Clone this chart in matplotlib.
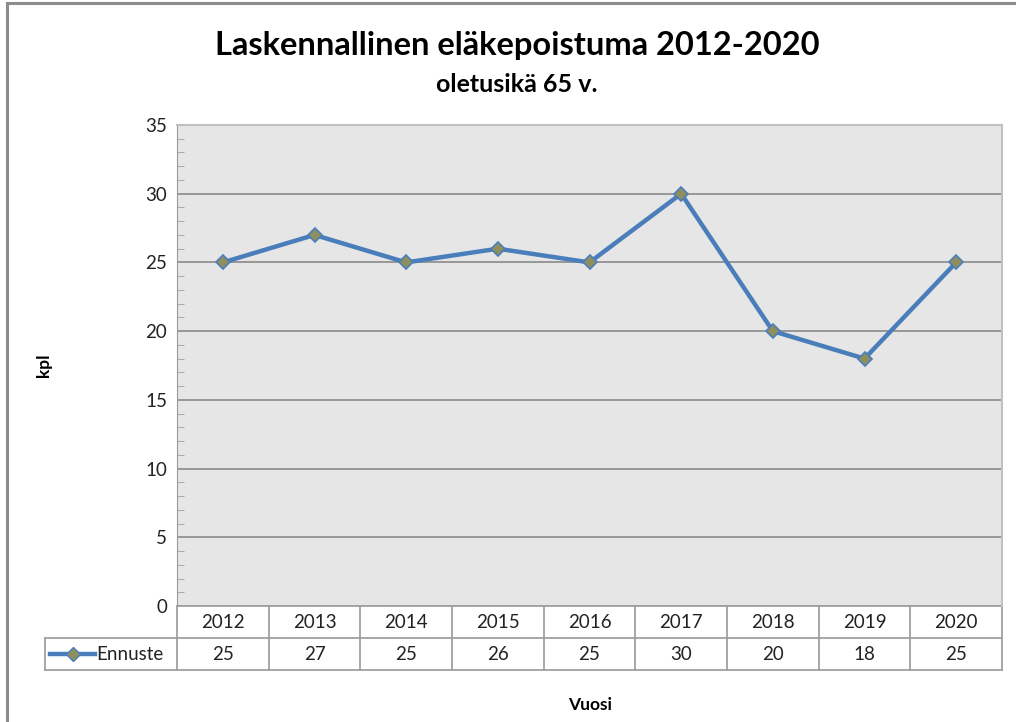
import matplotlib.pyplot as plt
from matplotlib.lines import Line2D
from matplotlib.patches import Rectangle
from matplotlib.ticker import MultipleLocator
import matplotlib.transforms as mtransforms

years = ['2012', '2013', '2014', '2015', '2016', '2017', '2018', '2019', '2020']
ennuste = [25, 27, 25, 26, 25, 30, 20, 18, 25]

plt.rcParams['font.family'] = ['Lato', 'DejaVu Sans']

W, H = 1016, 722
fig = plt.figure(figsize=(W / 100, H / 100), dpi=100)

# outer chart frame
fig.patches.append(Rectangle((7 / W, -0.05), 1.2, 1 - 3 / H + 0.05, transform=fig.transFigure,
                             fill=False, edgecolor='#8c8c8c', linewidth=2.2))

left, right, top, bottom = 177, 1002, 125, 606
ax = fig.add_axes([left / W, 1 - bottom / H, (right - left) / W, (bottom - top) / H])
ax.set_facecolor('#e6e6e6')

x = list(range(len(years)))
line_col = '#4a7ebb'
ax.plot(x, ennuste, color=line_col, linewidth=3.2, marker='D', markersize=7,
        markerfacecolor='#8f8f5e', markeredgecolor=line_col, markeredgewidth=1.2, zorder=3)

ax.set_xlim(-0.5, len(years) - 0.5)
ax.set_ylim(0, 35)
ax.yaxis.set_major_locator(MultipleLocator(5))
ax.yaxis.set_minor_locator(MultipleLocator(1))
ax.yaxis.grid(True, which='major', color='#8a8a8a', linewidth=1.2)
ax.set_axisbelow(True)
ax.tick_params(axis='y', which='both', direction='in', length=5, color='#a0a0a0',
               labelsize=13.5, labelcolor='#222222')
ax.tick_params(axis='y', which='major', length=0, pad=7)
ax.set_xticks([])
for s in ['top', 'right']:
    ax.spines[s].set_color('#c0c0c0')
    ax.spines[s].set_linewidth(1.5)
ax.spines['left'].set_color('#9a9a9a')
ax.spines['bottom'].set_visible(False)

# data table under the axis
row_h = 32 / (bottom - top)
legend_left = (45 - left) / (right - left)
tcol = '#a0a0a0'
fs = 13.5
trans = mtransforms.blended_transform_factory(ax.transData, ax.transAxes)
for yy in [0, -row_h, -2 * row_h]:
    x0 = 0 if yy == 0 else legend_left
    ax.add_line(Line2D([x0, 1], [yy, yy], transform=ax.transAxes, color=tcol,
                       linewidth=1.3, clip_on=False))
ax.add_line(Line2D([legend_left, legend_left], [-row_h, -2 * row_h], transform=ax.transAxes,
                   color=tcol, linewidth=1.3, clip_on=False))
for i in range(len(years) + 1):
    ax.add_line(Line2D([i - 0.5, i - 0.5], [0, -2 * row_h], transform=trans, color=tcol,
                       linewidth=1.3, clip_on=False))
for i, (yr, v) in enumerate(zip(years, ennuste)):
    ax.text(i, -0.5 * row_h, yr, transform=trans, ha='center', va='center',
            fontsize=fs, color='#222222')
    ax.text(i, -1.5 * row_h, str(v), transform=trans, ha='center', va='center',
            fontsize=fs, color='#222222')

# legend key inside the table
lx0 = (50 - left) / (right - left)
lx1 = (95 - left) / (right - left)
ax.add_line(Line2D([lx0, lx1], [-1.5 * row_h] * 2, transform=ax.transAxes, color=line_col,
                   linewidth=3.2, clip_on=False))
ax.add_line(Line2D([(lx0 + lx1) / 2], [-1.5 * row_h], transform=ax.transAxes, marker='D',
                   markersize=7, markerfacecolor='#8f8f5e', markeredgecolor=line_col,
                   linestyle='none', clip_on=False))
ax.text((96 - left) / (right - left), -1.5 * row_h, 'Ennuste', transform=ax.transAxes,
        ha='left', va='center', fontsize=fs, color='#222222')

fig.text(517 / W, 1 - 45 / H, 'Laskennallinen eläkepoistuma 2012-2020', ha='center',
         va='center', fontsize=23.5, fontweight='bold')
fig.text(517 / W, 1 - 84 / H, 'oletusikä 65 v.', ha='center', va='center',
         fontsize=18, fontweight='bold')
fig.text(44 / W, 1 - 365 / H, 'kpl', rotation=90, ha='center', va='center',
         fontsize=12.5, fontweight='bold')
fig.text(590 / W, 1 - 705 / H, 'Vuosi', ha='center', va='center',
         fontsize=12.5, fontweight='bold')

fig.savefig('out.png', dpi=100)
